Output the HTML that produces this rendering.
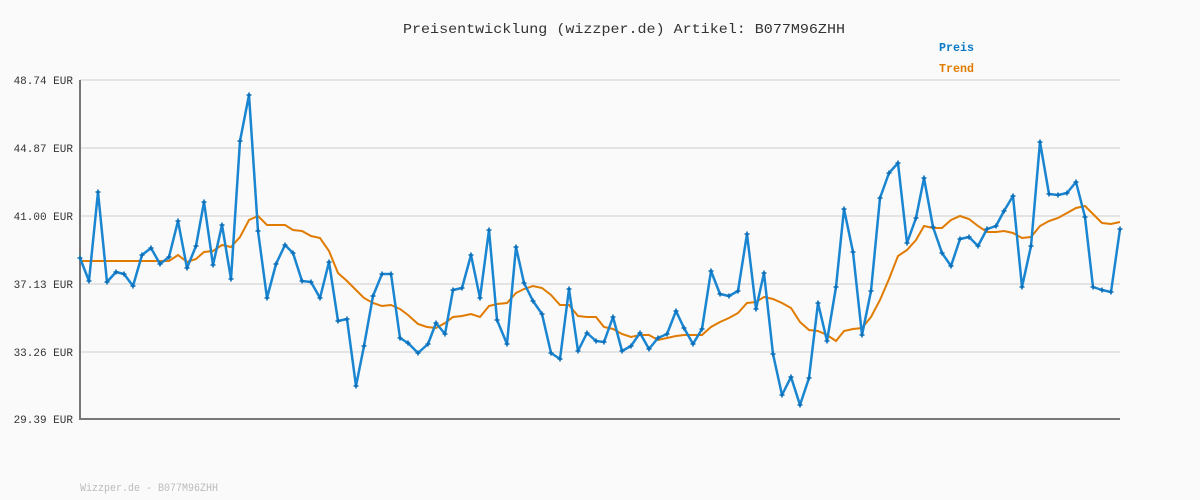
<!DOCTYPE html>
<html><head><meta charset="utf-8"><style>
html,body{margin:0;padding:0;background:#fafafa}
svg{display:block}
text{font-family:"Liberation Mono","DejaVu Sans Mono",monospace}
</style></head><body>
<svg width="1200" height="500" viewBox="0 0 1200 500" xmlns="http://www.w3.org/2000/svg">
<defs>
<marker id="m" markerUnits="userSpaceOnUse" markerWidth="6" markerHeight="6" refX="3" refY="3" viewBox="0 0 6 6">
<path d="M0.5 3H5.5M3 0.5V5.5" stroke="#0a6fb8" stroke-width="1.6"/>
</marker>
</defs>
<rect width="1200" height="500" fill="#fafafa"/>
<text x="403" y="33" font-size="14" fill="#333" textLength="442" lengthAdjust="spacingAndGlyphs">Preisentwicklung (wizzper.de) Artikel: B077M96ZHH</text>
<text x="939" y="51" font-size="12" font-weight="bold" fill="#0a7ac8" textLength="35" lengthAdjust="spacingAndGlyphs">Preis</text>
<text x="939" y="72" font-size="12" font-weight="bold" fill="#e07b00" textLength="35" lengthAdjust="spacingAndGlyphs">Trend</text>
<g stroke="#e4e4e4" stroke-width="2">
<line x1="80" y1="80" x2="1120" y2="80"/><line x1="80" y1="148" x2="1120" y2="148"/><line x1="80" y1="216" x2="1120" y2="216"/><line x1="80" y1="284" x2="1120" y2="284"/><line x1="80" y1="352" x2="1120" y2="352"/>
</g>
<g font-size="11" fill="#333" text-anchor="end">
<text x="73" y="84">48.74 EUR</text><text x="73" y="152">44.87 EUR</text><text x="73" y="220">41.00 EUR</text><text x="73" y="288">37.13 EUR</text><text x="73" y="356">33.26 EUR</text><text x="73" y="423">29.39 EUR</text>
</g>
<line x1="80" y1="419" x2="1120" y2="419" stroke="#777" stroke-width="2"/>
<line x1="80" y1="80" x2="80" y2="420" stroke="#777" stroke-width="2"/>
<polyline fill="none" stroke="#e07b00" stroke-width="2" points="80,261 169,261 178,255 187,262 196,259 204,252 213,251 222,245 231,247 240,237 249,220 258,216 267,225 285,225 293,230 302,231 311,236 320,238 329,251 338,273 347,281 356,290 364,298 373,303 382,306 391,305 400,309 408,315 418,324 427,327 436,328 445,323 453,317 462,316 471,314 480,317 489,306 497,304 507,303 516,293 524,289 533,286 542,288 551,295 560,305 569,305 578,316 587,317 596,317 604,327 613,329 622,334 631,337 640,335 649,335 658,340 667,338 676,336 684,335 693,335 702,335 711,327 720,322 729,318 738,313 747,303 756,302 764,297 773,299 782,303 791,308 800,322 809,330 818,331 827,335 836,341 844,331 853,329 862,328 871,317 880,300 889,279 898,256 907,250 916,240 924,226 933,228 942,228 951,220 960,216 969,219 978,226 987,232 996,232 1004,231 1013,233 1022,238 1031,237 1040,226 1049,221 1058,218 1067,213 1076,208 1085,206 1093,214 1102,223 1111,224 1120,222"/>
<polyline fill="none" stroke="#1a85d0" stroke-width="2.5" stroke-linejoin="round" marker-start="url(#m)" marker-mid="url(#m)" marker-end="url(#m)" points="80,258 89,281 98,192 107,282 116,272 124,274 133,286 142,255 151,248 160,264 169,257 178,221 187,268 196,246 204,202 213,265 222,225 231,279 240,141 249,95 258,231 267,298 276,264 285,245 293,253 302,281 311,282 320,298 329,262 338,321 347,319 356,386 364,346 373,296 382,274 391,274 400,338 408,343 418,353 428,344 436,323 445,334 453,290 462,288 471,255 480,298 489,230 497,320 507,344 516,247 524,283 533,301 542,314 551,353 560,359 569,289 578,351 587,333 596,341 604,342 613,317 622,351 631,346 640,333 649,349 658,338 667,334 676,311 684,328 693,344 702,329 711,271 720,294 729,296 738,291 747,234 756,309 764,273 773,354 782,395 791,377 800,405 809,378 818,303 827,341 836,287 844,209 853,252 862,335 871,291 880,198 889,173 898,163 907,243 916,218 924,178 933,227 942,253 951,266 960,239 969,237 978,246 987,229 996,226 1004,211 1013,196 1022,287 1031,246 1040,142 1049,194 1058,195 1067,193 1076,182 1085,217 1093,287 1102,290 1111,292 1120,229"/>
<text x="80" y="491" font-size="11" fill="#bbb" textLength="138" lengthAdjust="spacingAndGlyphs">Wizzper.de - B077M96ZHH</text>
</svg>
</body></html>
